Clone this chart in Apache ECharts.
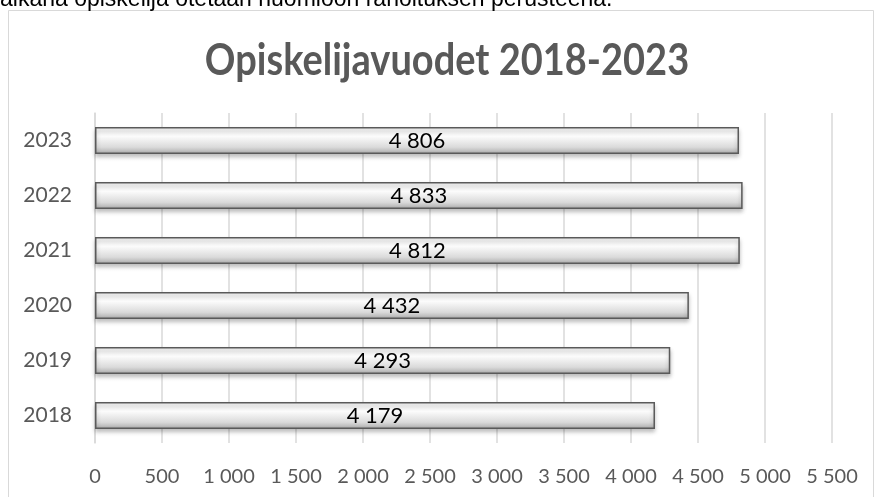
<!DOCTYPE html>
<html><head><meta charset="utf-8">
<script src="https://cdn.jsdelivr.net/npm/echarts@6/dist/echarts.min.js"></script>
<style>html,body{margin:0;padding:0;background:#fff;}#c{width:877px;height:497px;}</style>
</head><body><div id="c"></div>
<script>
const titleText = 'Opiskelijavuodet 2018-2023';
const pageText = 'aikana opiskelija otetaan huomioon rahoituksen perusteena.';
const years = ['2018','2019','2020','2021','2022','2023'];
const values = [4179, 4293, 4432, 4812, 4833, 4806];
const axisMax = 5500;
const axisStep = 500;

function fmt(v){ return String(v).replace(/\B(?=(\d{3})+(?!\d))/g, '\u00a0'); }

const chart = echarts.init(document.getElementById('c'));
chart.setOption({
  animation:false,
  backgroundColor:'#fff',
  graphic:[
    {type:'rect',shape:{x:8.5,y:10.5,width:865,height:500},style:{fill:'none',stroke:'#d9d9d9',lineWidth:1},silent:true},
    {type:'text',x:0,y:-12,style:{text:pageText,font:'23px Arial',fill:'#000',x:0,y:0,verticalAlign:'top'},silent:true},
    {type:'text',x:447,y:61,scaleY:1.15,style:{text:titleText,x:0,y:0,align:'center',verticalAlign:'middle',font:'bold 38px Lato',fill:'#595959'},silent:true}
  ],
  grid:{left:95,right:45,top:113,bottom:54,containLabel:false},
  xAxis:{type:'value',min:0,max:axisMax,interval:axisStep,
    axisLine:{show:false},axisTick:{show:false},
    splitLine:{lineStyle:{color:'#d9d9d9',width:1.5}},
    axisLabel:{margin:24,color:'#595959',fontFamily:'Lato',fontSize:20,formatter:v=>fmt(v)}},
  yAxis:{type:'category',data:years,
    axisLine:{show:true,lineStyle:{color:'#d9d9d9',width:1.5}},axisTick:{show:false},
    axisLabel:{margin:23,color:'#595959',fontFamily:'Lato',fontSize:21}},
  series:[{type:'bar',data:values,barWidth:27,
    itemStyle:{
      color:new echarts.graphic.LinearGradient(0,0,0,1,[
        {offset:0,color:'#f2f2f2'},{offset:0.35,color:'#fbfbfb'},{offset:0.75,color:'#dadada'},{offset:1,color:'#a8a8a8'}]),
      borderColor:'#5a5a5a',borderWidth:1.5,
      shadowColor:'rgba(0,0,0,0.25)',shadowBlur:4,shadowOffsetY:3},
    label:{show:true,position:'inside',color:'#000',fontFamily:'Lato',fontSize:22,formatter:p=>fmt(p.value)}
  }]
});
</script></body></html>
